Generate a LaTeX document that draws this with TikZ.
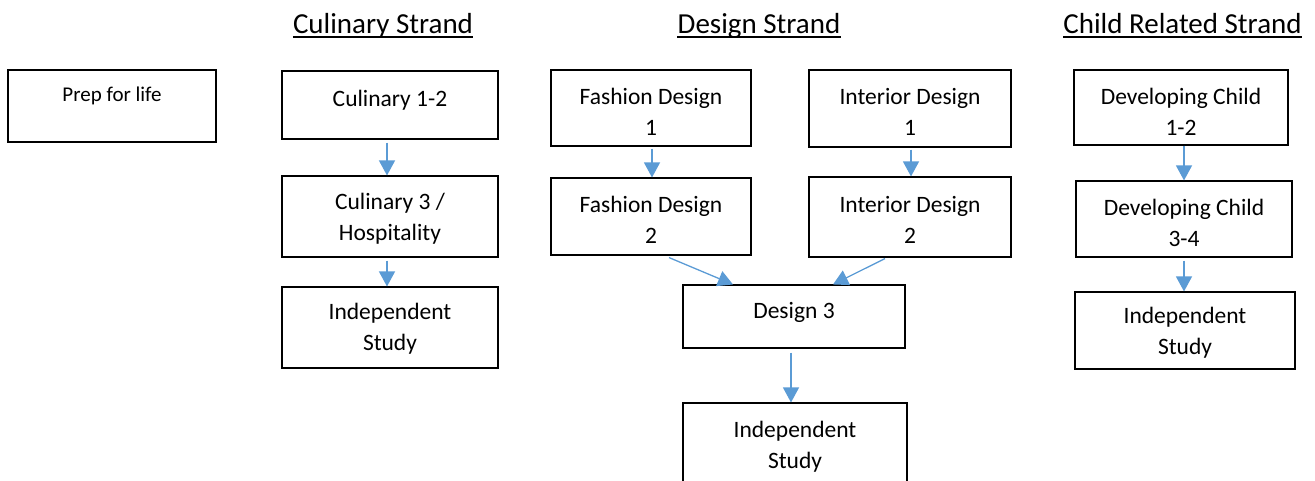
\documentclass[tikz,border=0pt]{standalone}
\usepackage{fontspec}
\setmainfont{Carlito}
\usetikzlibrary{calc,arrows.meta,fit}
\definecolor{arrblue}{HTML}{5B9BD5}
\begin{document}
\begin{tikzpicture}[x=1pt,y=-1pt,
  box/.style={draw=black, line width=1.1pt, inner sep=0pt},
  txt/.style={font=\fontsize{23.5}{30.5}\selectfont, align=center, inner sep=0pt, anchor=base},
  smalltxt/.style={font=\fontsize{21}{24}\selectfont, inner sep=0pt, anchor=base},
  ttl/.style={font=\fontsize{29}{34}\selectfont, inner sep=0pt, anchor=base},
  uline/.style={draw=black, line width=1.3pt},
  arr/.style={draw=arrblue, line width=1.3pt, -{Triangle[length=15pt,width=16pt]}}]
\useasboundingbox (0,0) rectangle (1315,480);

% titles
\node[ttl] (t1) at (383,33) {Culinary Strand};
\node[ttl] (t2) at (759,33) {Design Strand};
\node[ttl] (t3) at (1182.5,33) {Child Related Strand};
\draw[uline] ($(t1.base west)+(0,4)$) -- ($(t1.base east)+(0,4)$);
\draw[uline] ($(t2.base west)+(0,4)$) -- ($(t2.base east)+(0,4)$);
\draw[uline] ($(t3.base west)+(0,4)$) -- ($(t3.base east)+(0,4)$);

% boxes (text anchor = baseline of the last line)
\node[box, fit={(8,70) (216,142)}] (prep) {};
\node[smalltxt] (prept) at (112,101) {Prep for life};

\node[box, fit={(282,71) (498,139)}] (cul1) {};
\node[txt] (cul1t) at (390,106) {Culinary 1-2};
\node[box, fit={(282,176) (498,257)}] (cul2) {};
\node[txt] (cul2t) at (390,240) {Culinary 3 /\\Hospitality};
\node[box, fit={(282,287) (498,368)}] (cul3) {};
\node[txt] (cul3t) at (390,350) {Independent\\Study};

\node[box, fit={(551,70) (751,146)}] (fd1) {};
\node[txt] (fd1t) at (651,135) {Fashion Design\\1};
\node[box, fit={(551,178) (751,255)}] (fd2) {};
\node[txt] (fd2t) at (651,243) {Fashion Design\\2};
\node[box, fit={(809,70) (1011,147)}] (id1) {};
\node[txt] (id1t) at (910,135) {Interior Design\\1};
\node[box, fit={(809,177) (1011,257)}] (id2) {};
\node[txt] (id2t) at (910,243) {Interior Design\\2};
\node[box, fit={(683,285) (905,348)}] (d3) {};
\node[txt] (d3t) at (794,318) {Design 3};
\node[box, fit={(683,403) (907,495)}] (dis) {};
\node[txt] (dist) at (795,468) {Independent\\Study};

\node[box, fit={(1074,70) (1288,145)}] (dc1) {};
\node[txt] (dc1t) at (1181,135) {Developing Child\\1-2};
\node[box, fit={(1076,181) (1292,257)}] (dc2) {};
\node[txt] (dc2t) at (1184,246) {Developing Child\\3-4};
\node[box, fit={(1075,292) (1295,369)}] (dcis) {};
\node[txt] (dcist) at (1185,354) {Independent\\Study};

% arrows
\draw[arr] ($(cul1.south)+(-3,3)$) -- ($(cul2.north)+(-3,0)$);
\draw[arr] ($(cul2.south)+(-3,3)$) -- ($(cul3.north)+(-3,0)$);
\draw[arr] ($(fd1.south)+(1,2)$) -- ($(fd2.north)+(1,0)$);
\draw[arr] ($(id1.south)+(1,2)$) -- ($(id2.north)+(1,0)$);
\draw[arr] ($(fd2.south)+(18,2)$) -- ($(d3.north)+(-61,0)$);
\draw[arr] ($(id2.south)+(-25,1)$) -- ($(d3.north)+(39,0)$);
\draw[arr] ($(d3.south)+(-3,4)$) -- ($(dis.north)+(-4,0)$);
\draw[arr] ($(dc1.south)+(3,0)$) -- ($(dc2.north)+(0,0)$);
\draw[arr] ($(dc2.south)+(0,3)$) -- ($(dcis.north)+(-1,0)$);
\end{tikzpicture}
\end{document}
